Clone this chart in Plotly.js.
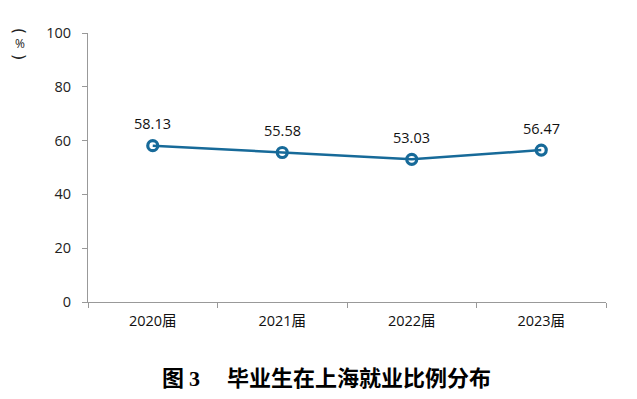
<!DOCTYPE html>
<html><head><meta charset="utf-8">
<script src="https://cdn.plot.ly/plotly-3.0.1.min.js"></script>
<style>html,body{margin:0;padding:0;background:#fff}#c{width:637px;height:399px}</style>
</head><body><div id="c"></div>
<script>
const categories = ["2020届","2021届","2022届","2023届"];
const values = [58.13, 55.58, 53.03, 56.47];
const yTicks = [0,20,40,60,80,100];

const trace = {
  x: categories, y: values, type: "scatter", mode: "lines+markers",
  line: {color: "#176a99", width: 2.5},
  marker: {symbol: "circle-open", size: 10, color: "#176a99", line: {width: 3.2, color: "#176a99"}},
  cliponaxis: false, hoverinfo: "none"
};
const labelAnns = categories.map((c, i) => ({
  x: c, y: values[i], xref: "x", yref: "y", text: values[i].toFixed(2),
  showarrow: false, yshift: 22, xanchor: "center", yanchor: "middle",
  font: {family: "Open Sans, Noto Sans, sans-serif", size: 14.5, color: "#111"}
}));
const unitFont = {family: "DejaVu Sans, sans-serif", size: 16, color: "#222"};
const layout = {
  width: 637, height: 399,
  margin: {l: 88, r: 31, t: 33, b: 97},
  paper_bgcolor: "#fff", plot_bgcolor: "#fff",
  showlegend: false,
  font: {family: "Open Sans, Noto Sans, sans-serif", size: 14, color: "#222"},
  xaxis: {
    type: "category", tickson: "boundaries", ticks: "outside", ticklen: 5, tickcolor: "#999",
    showline: true, linecolor: "#999", linewidth: 1, showgrid: false, zeroline: false,
    tickfont: {family: "Open Sans, Noto Sans CJK SC, sans-serif", size: 14.5, color: "#111"},
    range: [-0.5, 3.5], ticklabelstandoff: 6
  },
  yaxis: {
    range: [0, 100], tickvals: yTicks, ticks: "outside", ticklen: 5, tickcolor: "#999",
    showline: true, linecolor: "#999", linewidth: 1, showgrid: false, zeroline: false,
    tickfont: {family: "Open Sans, Noto Sans, sans-serif", size: 14.5, color: "#222"},
    ticklabelstandoff: 8
  },
  annotations: labelAnns.concat([
    {text: "(", xref: "paper", yref: "paper", x: -0.132, y: 1.01, xanchor: "center", yanchor: "middle",
     textangle: 90, showarrow: false, font: unitFont, borderpad: 0},
    {text: "%", xref: "paper", yref: "paper", x: -0.132, y: 0.962, xanchor: "center", yanchor: "middle",
     showarrow: false, font: {family: "Open Sans, sans-serif", size: 12, color: "#222"}, borderpad: 0},
    {text: ")", xref: "paper", yref: "paper", x: -0.132, y: 0.912, xanchor: "center", yanchor: "middle",
     textangle: 90, showarrow: false, font: unitFont, borderpad: 0},
    {text: "<b><span style=\"font-family:Noto Sans CJK SC\">图</span> <span style=\"font-family:Liberation Serif\">3</span>　 毕业生在上海就业比例分布</b>",
     xref: "paper", yref: "paper", x: 0.46, y: -0.274, xanchor: "center", yanchor: "middle",
     showarrow: false, font: {family: "Noto Sans CJK SC, sans-serif", size: 22, color: "#000"}}
  ])
};
Plotly.newPlot("c", [trace], layout, {staticPlot: true});
</script></body></html>
